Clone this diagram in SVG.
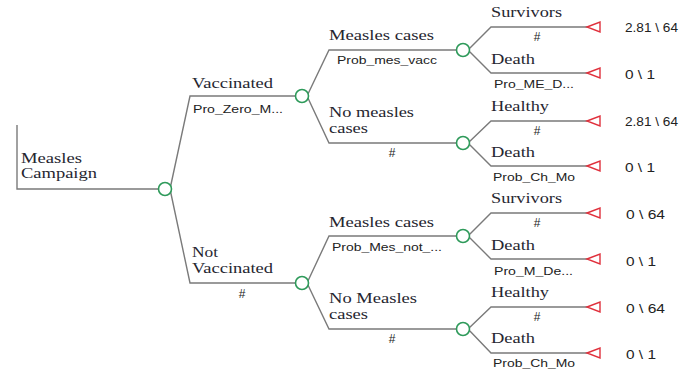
<svg xmlns="http://www.w3.org/2000/svg" width="688" height="373" viewBox="0 0 688 373">
<style>
.ln{fill:none;stroke:#7a7a7a;stroke-width:1.4}
.ch{fill:#fff;stroke:#2e9a5a;stroke-width:1.6}
.tm{fill:#fff;stroke:#e0303c;stroke-width:1.4}
.lb{font-family:"Liberation Serif",serif;font-size:15px;fill:#262630}
.pr{font-family:"Liberation Sans",sans-serif;font-size:11px;fill:#222}
.hs{font-family:"Liberation Sans",sans-serif;font-size:12px;fill:#222;text-anchor:middle}
.vl{font-family:"Liberation Sans",sans-serif;font-size:13px;fill:#222}
</style>
<rect width="688" height="373" fill="#fff"/>
<g id="connectors">
<path class="ln" d="M17,125 V189 H160"/>
<path class="ln" d="M170,189 L190,96 H297"/>
<path class="ln" d="M170,189 L190,283 H297"/>
<path class="ln" d="M307,96 L329,50 H458"/>
<path class="ln" d="M307,96 L329,143 H458"/>
<path class="ln" d="M307,283 L329,236 H458"/>
<path class="ln" d="M307,283 L329,329 H458"/>
<path class="ln" d="M468,50 L491,27 H588"/>
<path class="ln" d="M468,50 L491,73 H588"/>
<path class="ln" d="M468,143 L491,121 H588"/>
<path class="ln" d="M468,143 L491,166 H588"/>
<path class="ln" d="M468,236 L491,213 H588"/>
<path class="ln" d="M468,236 L491,259 H588"/>
<path class="ln" d="M468,329 L491,307 H588"/>
<path class="ln" d="M468,329 L491,353 H588"/>
</g>
<g id="root">
<text class="lb" x="21" y="163" textLength="61" lengthAdjust="spacingAndGlyphs">Measles</text>
<text class="lb" x="21" y="178" textLength="76" lengthAdjust="spacingAndGlyphs">Campaign</text>
<circle class="ch" cx="165" cy="189" r="6.5"/>
</g>
<g id="vaccinated">
<text class="lb" x="192" y="88" textLength="81" lengthAdjust="spacingAndGlyphs">Vaccinated</text>
<text class="pr" x="193" y="113" textLength="90" lengthAdjust="spacingAndGlyphs">Pro_Zero_M...</text>
<circle class="ch" cx="302" cy="96" r="6.5"/>
</g>
<g id="not-vaccinated">
<text class="lb" x="192" y="257" textLength="26" lengthAdjust="spacingAndGlyphs">Not</text>
<text class="lb" x="192" y="273" textLength="81" lengthAdjust="spacingAndGlyphs">Vaccinated</text>
<text class="hs" x="242" y="298">#</text>
<circle class="ch" cx="302" cy="283" r="6.5"/>
</g>
<g id="v-measles">
<text class="lb" x="329" y="40" textLength="105" lengthAdjust="spacingAndGlyphs">Measles cases</text>
<text class="pr" x="337" y="64" textLength="100" lengthAdjust="spacingAndGlyphs">Prob_mes_vacc</text>
<circle class="ch" cx="463" cy="50" r="6.5"/>
</g>
<g id="v-no-measles">
<text class="lb" x="329" y="117" textLength="85" lengthAdjust="spacingAndGlyphs">No measles</text>
<text class="lb" x="329" y="133" textLength="39" lengthAdjust="spacingAndGlyphs">cases</text>
<text class="hs" x="392" y="157">#</text>
<circle class="ch" cx="463" cy="143" r="6.5"/>
</g>
<g id="nv-measles">
<text class="lb" x="329" y="227" textLength="105" lengthAdjust="spacingAndGlyphs">Measles cases</text>
<text class="pr" x="332" y="251" textLength="110" lengthAdjust="spacingAndGlyphs">Prob_Mes_not_...</text>
<circle class="ch" cx="463" cy="236" r="6.5"/>
</g>
<g id="nv-no-measles">
<text class="lb" x="329" y="303" textLength="88" lengthAdjust="spacingAndGlyphs">No Measles</text>
<text class="lb" x="329" y="319" textLength="39" lengthAdjust="spacingAndGlyphs">cases</text>
<text class="hs" x="392" y="343">#</text>
<circle class="ch" cx="463" cy="329" r="6.5"/>
</g>
<g id="leaf-1">
<text class="lb" x="491" y="17" textLength="71" lengthAdjust="spacingAndGlyphs">Survivors</text>
<text class="hs" x="537" y="41">#</text>
<polygon class="tm" points="587,27 600,22 600,32"/>
<text class="vl" x="625" y="32" textLength="53" lengthAdjust="spacingAndGlyphs">2.81 \ 64</text>
</g>
<g id="leaf-2">
<text class="lb" x="491" y="64" textLength="44" lengthAdjust="spacingAndGlyphs">Death</text>
<text class="pr" x="494" y="88" textLength="80" lengthAdjust="spacingAndGlyphs">Pro_ME_D...</text>
<polygon class="tm" points="587,73 600,68 600,78"/>
<text class="vl" x="625" y="79" textLength="30" lengthAdjust="spacingAndGlyphs">0 \ 1</text>
</g>
<g id="leaf-3">
<text class="lb" x="491" y="111" textLength="58" lengthAdjust="spacingAndGlyphs">Healthy</text>
<text class="hs" x="537" y="135">#</text>
<polygon class="tm" points="587,121 600,116 600,126"/>
<text class="vl" x="625" y="126" textLength="53" lengthAdjust="spacingAndGlyphs">2.81 \ 64</text>
</g>
<g id="leaf-4">
<text class="lb" x="491" y="157" textLength="44" lengthAdjust="spacingAndGlyphs">Death</text>
<text class="pr" x="493" y="181" textLength="82" lengthAdjust="spacingAndGlyphs">Prob_Ch_Mo</text>
<polygon class="tm" points="587,166 600,161 600,171"/>
<text class="vl" x="625" y="172" textLength="30" lengthAdjust="spacingAndGlyphs">0 \ 1</text>
</g>
<g id="leaf-5">
<text class="lb" x="491" y="203" textLength="71" lengthAdjust="spacingAndGlyphs">Survivors</text>
<text class="hs" x="537" y="227">#</text>
<polygon class="tm" points="587,213 600,208 600,218"/>
<text class="vl" x="626" y="219" textLength="39" lengthAdjust="spacingAndGlyphs">0 \ 64</text>
</g>
<g id="leaf-6">
<text class="lb" x="491" y="250" textLength="44" lengthAdjust="spacingAndGlyphs">Death</text>
<text class="pr" x="494" y="275" textLength="79" lengthAdjust="spacingAndGlyphs">Pro_M_De...</text>
<polygon class="tm" points="587,259 600,254 600,264"/>
<text class="vl" x="626" y="266" textLength="30" lengthAdjust="spacingAndGlyphs">0 \ 1</text>
</g>
<g id="leaf-7">
<text class="lb" x="491" y="297" textLength="58" lengthAdjust="spacingAndGlyphs">Healthy</text>
<text class="hs" x="537" y="321">#</text>
<polygon class="tm" points="587,307 600,302 600,312"/>
<text class="vl" x="626" y="313" textLength="39" lengthAdjust="spacingAndGlyphs">0 \ 64</text>
</g>
<g id="leaf-8">
<text class="lb" x="491" y="343" textLength="44" lengthAdjust="spacingAndGlyphs">Death</text>
<text class="pr" x="493" y="367" textLength="82" lengthAdjust="spacingAndGlyphs">Prob_Ch_Mo</text>
<polygon class="tm" points="587,353 600,348 600,358"/>
<text class="vl" x="626" y="359" textLength="30" lengthAdjust="spacingAndGlyphs">0 \ 1</text>
</g>
</svg>
